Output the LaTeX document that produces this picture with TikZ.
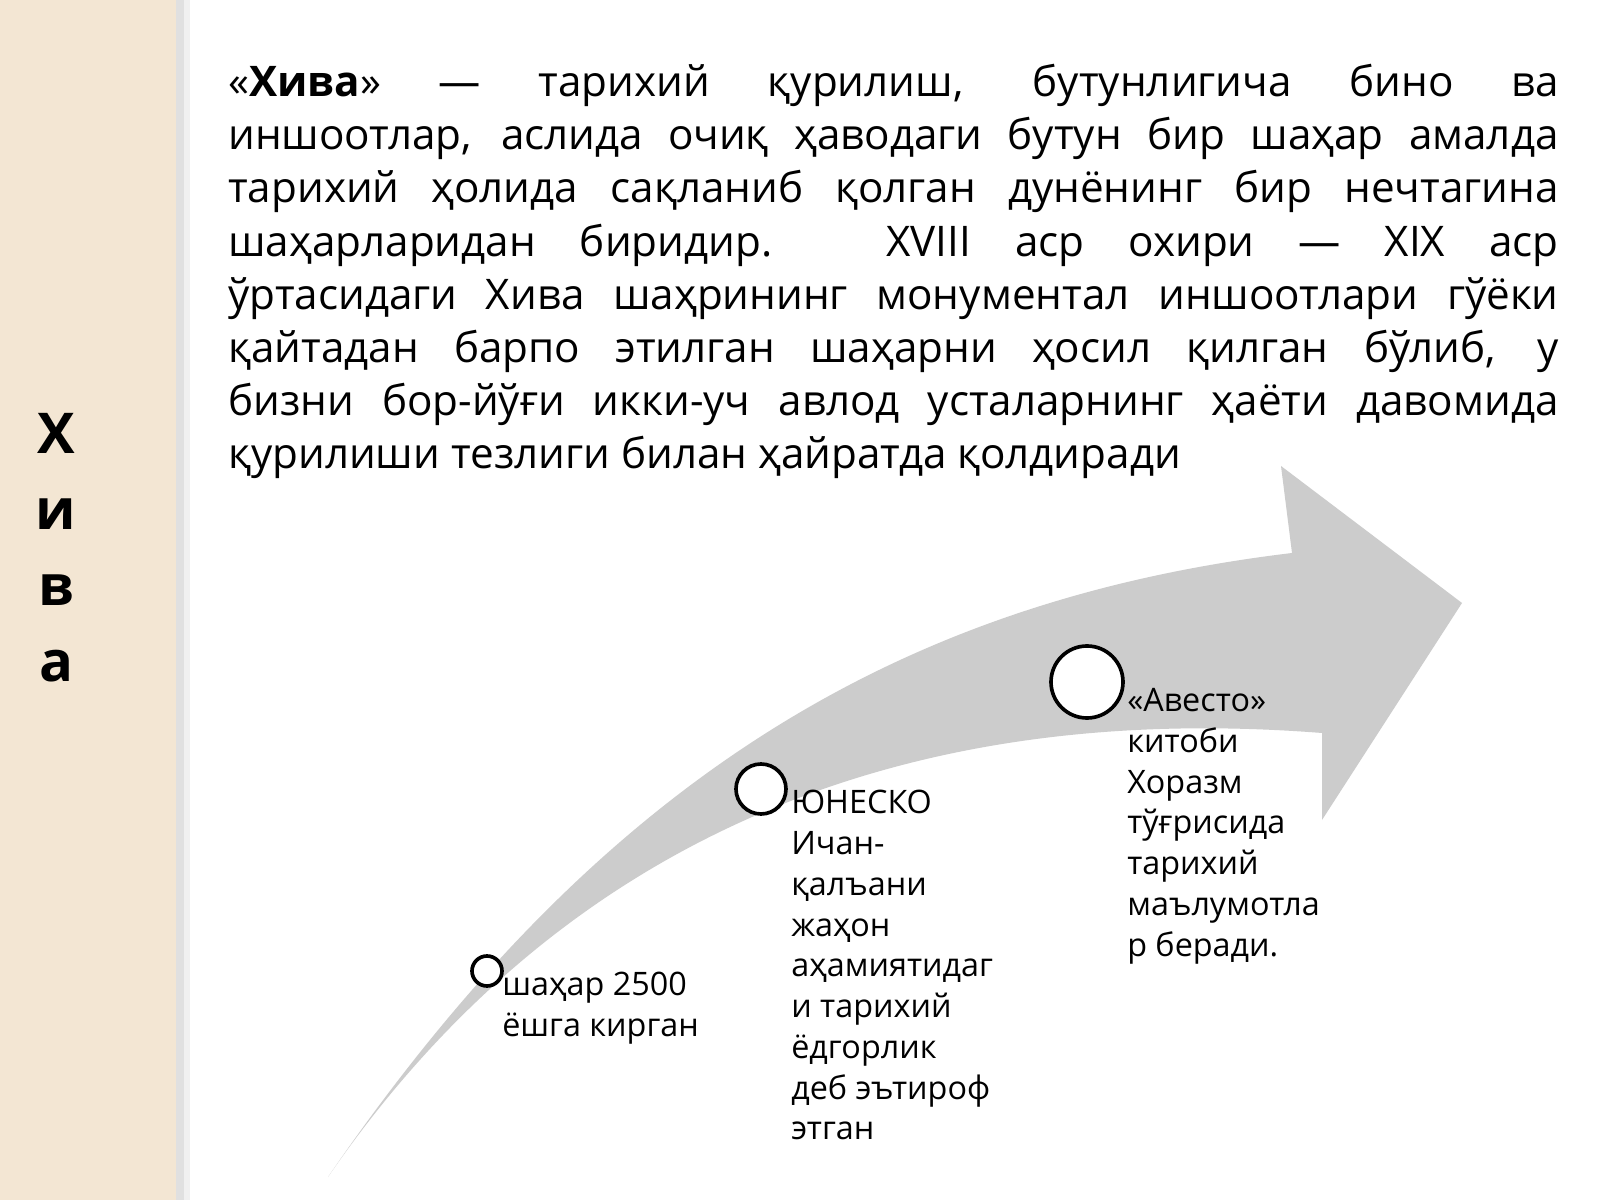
\documentclass[tikz,border=0pt]{standalone}
\usepackage{fontspec}
\setmainfont{Open Sans}
\begin{document}
\begin{tikzpicture}[x=0.025cm,y=-0.025cm,
    mark circle/.style={draw=black, line width=2.6pt, fill=white},
    stage label/.style={anchor=north west, inner sep=0pt, align=left,
      font=\fontsize{23}{29}\selectfont}]
    \useasboundingbox (0,0) rectangle (1600,1200);
    % side bar
    \fill[white] (0,0) rectangle (1600,1200);
    \fill[black!12] (176,0) rectangle (184,1200);
    \fill[black!6] (184,0) rectangle (190,1200);
    \fill[orange!20!yellow!12!brown!22!white] (0,0) rectangle (176,1200);
    \node[font=\fontsize{40}{52}\selectfont\bfseries, align=center, inner sep=0pt]
      (title) at (56,548) {Х\\[2pt]и\\[2pt]в\\[2pt]а};
    % main text
    \node[anchor=north west, inner sep=0pt] (body) at (228,64) {%
      \parbox{33.25cm}{\fontsize{30}{37.8}\selectfont\hyphenpenalty=10000
      «\textbf{Хива}» — тарихий қурилиш, бутунлигича бино ва\linebreak
      иншоотлар, аслида очиқ ҳаводаги бутун бир шаҳар амалда\linebreak
      тарихий ҳолида сақланиб қолган дунёнинг бир нечтагина\linebreak
      шаҳарларидан биридир. XVIII аср охири — XIX аср\linebreak
      ўртасидаги Хива шаҳрининг монументал иншоотлари гўёки\linebreak
      қайтадан барпо этилган шаҳарни ҳосил қилган бўлиб, у\linebreak
      бизни бор-йўғи икки-уч авлод усталарнинг ҳаёти давомида\linebreak
      қурилиши тезлиги билан ҳайратда қолдиради\par}};
    % arrow
    \fill[black!20] (328,1177) .. controls (600,780) and (900,600) .. (1292,553)
      -- (1281,466) -- (1462,603) -- (1322,820) -- (1322,733)
      .. controls (900,700) and (560,840) .. (328,1177) -- cycle;
    % stages
    \draw[mark circle] (487,971) circle (15);
    \draw[mark circle] (761,789) circle (25);
    \draw[mark circle] (1087,682) circle (36);
    \node[stage label] (s1) at (502,972) {шаҳар 2500\\ёшга кирган};
    \node[stage label] (s2) at (791,790) {ЮНЕСКО\\Ичан-\\қалъани\\жаҳон\\аҳамиятидаг\\и тарихий\\ёдгорлик\\деб эътироф\\этган};
    \node[stage label] (s3) at (1127,688) {«Авесто»\\китоби\\Хоразм\\тўғрисида\\тарихий\\маълумотла\\р беради.};
\end{tikzpicture}
\end{document}
